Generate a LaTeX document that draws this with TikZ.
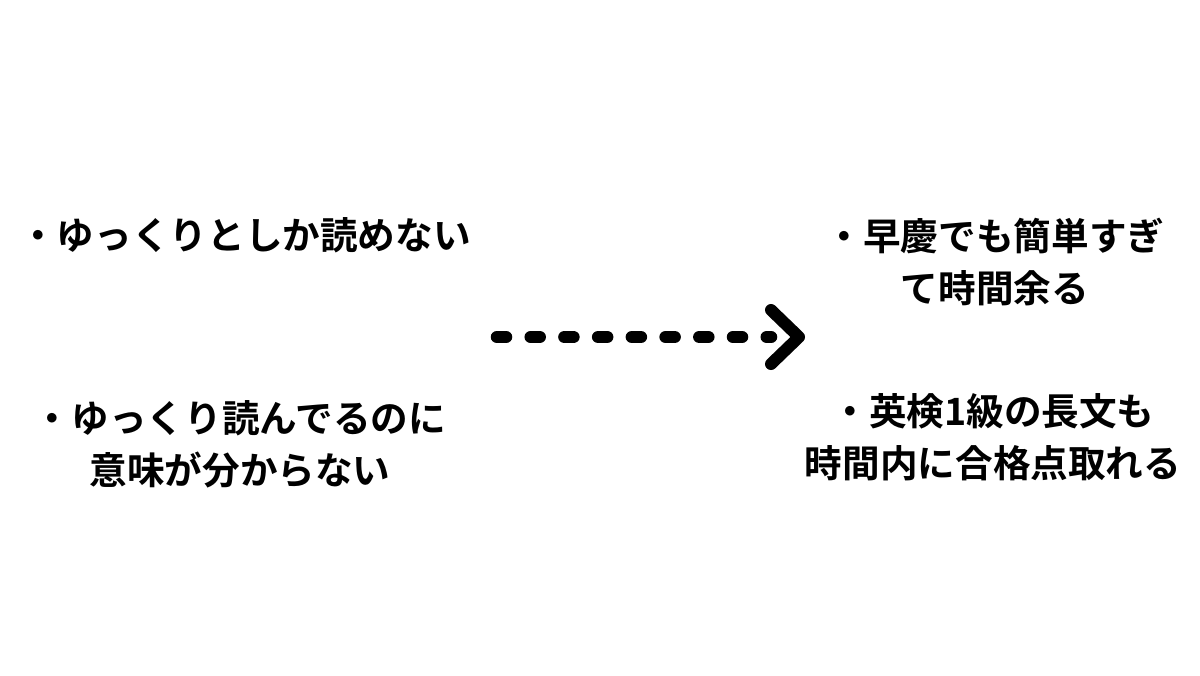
\documentclass[tikz,border=0pt]{standalone}
\usepackage{fontspec}
\newfontfamily\jpfont{Noto Sans CJK JP}[BoldFont={Noto Sans CJK JP Bold}]
\usepackage{tikz}
\usetikzlibrary{positioning}

\begin{document}
\begin{tikzpicture}[
    x=0.01cm, y=-0.01cm,
    txt/.style={inner sep=0pt, align=center, font=\jpfont\bfseries\fontsize{10.7}{14.8}\selectfont},
    dots/.style={draw=black, line width=0.125cm, line cap=round, dash pattern=on 0.09cm off 0.247cm},
    tip/.style={draw=black, line width=0.12cm, line cap=round, line join=round}
]
\useasboundingbox[fill=white] (0,0) rectangle (1200,675);

% Nodes
\node[txt] (slow) at (245,235) {・ゆっくりとしか読めない};
\node[txt] (lost) at (240,444) {・ゆっくり読んでるのに\\意味が分からない};
\node[txt] (easy) at (995,262) {・早慶でも簡単すぎ\\て時間余る};
\node[txt] (pass) at (993,437) {・英検1級の長文も\\時間内に合格点取れる};

\coordinate (from) at (497,337);
\coordinate (to) at (771,337);
\coordinate (head) at (799,337);

% Connections
\draw[dots] (from) -- (to);
\draw[tip] ([yshift=-0.27cm]to) -- (head) -- ([yshift=0.27cm]to);

\end{tikzpicture}
\end{document}
